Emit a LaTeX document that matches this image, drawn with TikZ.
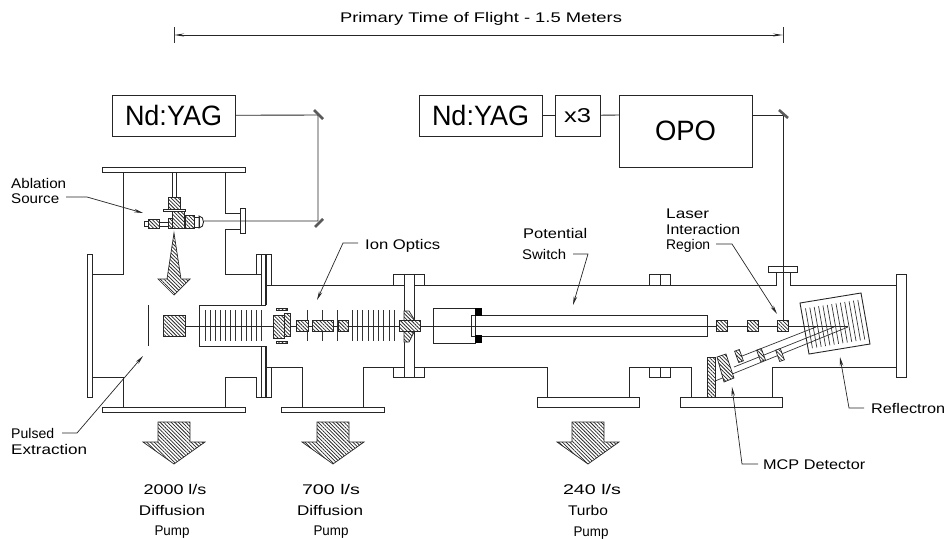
\documentclass[tikz,border=0pt]{standalone}
\usepackage{graphicx}
\usepackage{fontspec}
\setmainfont{Liberation Sans}
\usetikzlibrary{backgrounds,shapes,arrows.meta,patterns.meta}
\pgfdeclarelayer{edgelayer}
\pgfdeclarelayer{nodelayer}
\pgfsetlayers{edgelayer,nodelayer,main}
\tikzset{font=\fontsize{14}{14}\selectfont}
\newcommand{\wlab}[2]{\resizebox{#1pt}{\height}{#2}}
\tikzstyle{none}=[inner sep=0pt,minimum size=0pt]
\tikzstyle{wall}=[line width=0.9pt,black!85]
\tikzstyle{thin}=[line width=0.7pt,black!80]
\tikzstyle{hatch}=[line width=0.7pt,draw=black!85,preaction={fill=white},pattern={Lines[angle=-45,distance=2.6pt,line width=0.75pt]},pattern color=black!85]
\tikzstyle{mirror}=[line width=2.6pt,black!65]
\tikzstyle{leader}=[line width=0.7pt,black!85,-{Stealth[length=9pt,width=3.5pt]}]
\tikzstyle{span}=[line width=1pt,black!85,{Stealth[length=10pt,width=3pt]}-{Stealth[length=10pt,width=3pt]}]
\tikzstyle{laserbox}=[draw,line width=0.9pt,black!85,text=black,inner sep=0pt,font=\fontsize{28}{28}\selectfont]
\tikzstyle{lab}=[inner sep=0pt,text height=10pt,text depth=0pt,text=black]
\begin{document}
\begin{tikzpicture}[x=1pt,y=-1pt]
	\useasboundingbox (0,0) rectangle (947,538);
	\begin{pgfonlayer}{nodelayer}
		\node [style=laserbox,minimum width=123pt,minimum height=41pt] (0) at (173.5,115.5) {\wlab{97}{Nd:YAG}};
		\node [style=laserbox,minimum width=123pt,minimum height=41pt] (1) at (480.5,115.5) {\wlab{97}{Nd:YAG}};
		\node [style=laserbox,minimum width=45pt,minimum height=41pt,font=\fontsize{20}{20}\selectfont] (2) at (577.5,115.5) {\wlab{27}{x3}};
		\node [style=laserbox,minimum width=133pt,minimum height=72pt] (3) at (685.5,131) {\wlab{61}{OPO}};
		\node [style=none] (4) at (619,115) {};
		\node [style=none] (5) at (752,115) {};
		\node [style=none] (6) at (318,115) {};
		\node [style=none] (7) at (318,221) {};
		\node [style=none] (8) at (204,221) {};
		\node [style=none] (9) at (783,115) {};
		\node [style=none] (10) at (783,320) {};
		\node [style=none] (11) at (174,35) {};
		\node [style=none] (12) at (783,35) {};
		\node [style=none] (13) at (174,27) {};
		\node [style=none] (14) at (174,43) {};
		\node [style=none] (15) at (783,27) {};
		\node [style=none] (16) at (783,43) {};
		\node [style=none] (17) at (163,326) {};
		\node [style=none] (18) at (848,326) {};
		\node [style=lab] (20) at (481,18) {\wlab{282}{Primary Time of Flight - 1.5 Meters}};
		\node [style=lab,anchor=west] (21) at (11,183) {\wlab{55}{Ablation}};
		\node [style=lab,anchor=west] (22) at (11,198) {\wlab{48}{Source}};
		\node [style=none] (23) at (66,197) {};
		\node [style=none] (24) at (87,197) {};
		\node [style=none] (25) at (143,213) {};
		\node [style=lab,anchor=west] (26) at (365,244) {\wlab{75}{Ion Optics}};
		\node [style=none] (27) at (358,243) {};
		\node [style=none] (28) at (343,243) {};
		\node [style=none] (29) at (317,300) {};
		\node [style=lab,anchor=west] (30) at (523,233) {\wlab{64}{Potential}};
		\node [style=lab,anchor=west] (31) at (522,254) {\wlab{44}{Switch}};
		\node [style=none] (32) at (573,254) {};
		\node [style=none] (33) at (588,254) {};
		\node [style=none] (34) at (573,305) {};
		\node [style=lab,anchor=west] (35) at (666,213) {\wlab{43}{Laser}};
		\node [style=lab,anchor=west] (36) at (666,229) {\wlab{74}{Interaction}};
		\node [style=lab,anchor=west] (37) at (666,244) {\wlab{44}{Region}};
		\node [style=none] (38) at (716,244) {};
		\node [style=none] (39) at (732,244) {};
		\node [style=none] (40) at (777,314) {};
		\node [style=lab,anchor=west] (41) at (871,408) {\wlab{74}{Reflectron}};
		\node [style=none] (42) at (864,408) {};
		\node [style=none] (43) at (849,408) {};
		\node [style=none] (44) at (840,357) {};
		\node [style=lab,anchor=west] (45) at (763,464) {\wlab{102}{MCP Detector}};
		\node [style=none] (46) at (758,464) {};
		\node [style=none] (47) at (742,464) {};
		\node [style=none] (48) at (732,387) {};
		\node [style=lab,anchor=west] (49) at (11,433) {\wlab{43}{Pulsed}};
		\node [style=lab,anchor=west] (50) at (11,449) {\wlab{76}{Extraction}};
		\node [style=none] (51) at (62,433) {};
		\node [style=none] (52) at (77,433) {};
		\node [style=none] (53) at (143,356) {};
		\node [style=lab] (54) at (175,489) {\wlab{63}{2000 l/s}};
		\node [style=lab] (55) at (172,510) {\wlab{66}{Diffusion}};
		\node [style=lab] (56) at (172,530) {\wlab{35}{Pump}};
		\node [style=lab] (57) at (331,489) {\wlab{58}{700 l/s}};
		\node [style=lab] (58) at (330,510) {\wlab{66}{Diffusion}};
		\node [style=lab] (59) at (331,530) {\wlab{35}{Pump}};
		\node [style=lab] (60) at (592,489) {\wlab{58}{240 l/s}};
		\node [style=lab] (61) at (588,510) {\wlab{40}{Turbo}};
		\node [style=lab] (62) at (591,531) {\wlab{35}{Pump}};
	\end{pgfonlayer}
	\begin{pgfonlayer}{edgelayer}
		\draw [style=wall] (102,167) rectangle (245,172);
		\draw [style=wall] (102,407) rectangle (245,412);
		\draw [style=wall] (87,254) rectangle (92,397);
		\draw [style=wall] (123,172) -- (123,274) -- (92,274);
		\draw [style=wall] (92,377) -- (123,377) -- (123,407);
		\draw [style=wall] (225,172) -- (225,213) -- (240,213);
		\draw [style=wall] (240,229) -- (225,229) -- (225,274) -- (261,274);
		\draw [style=wall] (225,407) -- (225,377) -- (256,377);
		\draw [style=wall] (240,208) rectangle (245,233);
		\draw [style=wall] (256,274) -- (256,254) -- (271,254) -- (271,285);
		\draw [style=wall] (256,377) -- (256,397) -- (271,397) -- (271,367);
		\draw [style=wall] (261,254) -- (261,305) (261,346) -- (261,397);
		\draw [style=wall,line width=1.3pt] (266,254) -- (266,305) (266,346) -- (266,397);
		\draw [style=wall] (266,305) -- (199,305) -- (199,346) -- (266,346);
		\draw [style=wall] (266,285) -- (393,285);
		\draw [style=wall] (393,274) rectangle (404,285);
		\draw [style=wall] (414,274) rectangle (424,285);
		\draw [style=wall] (404,274) rectangle (414,377);
		\draw [style=wall] (393,367) rectangle (404,377);
		\draw [style=wall] (414,367) rectangle (424,377);
		\draw [style=wall] (424,285) -- (649,285);
		\draw [style=wall] (649,274) rectangle (660,285);
		\draw [style=wall] (660,274) rectangle (670,285);
		\draw [style=wall] (670,285) -- (776,285) -- (776,272);
		\draw [style=wall] (768,266) rectangle (797,272);
		\draw [style=wall] (790,272) -- (790,285) -- (896,285);
		\draw [style=wall] (896,274) rectangle (906,377);
		\draw [style=wall] (896,367) -- (772,367) -- (772,397);
		\draw [style=wall] (680,397) rectangle (782,407);
		\draw [style=wall] (691,397) -- (691,367) -- (670,367);
		\draw [style=wall] (649,367) rectangle (660,377);
		\draw [style=wall] (660,367) rectangle (670,377);
		\draw [style=wall] (649,367) -- (629,367) -- (629,397);
		\draw [style=wall] (537,397) rectangle (639,407);
		\draw [style=wall] (547,397) -- (547,367) -- (424,367);
		\draw [style=wall] (393,367) -- (363,367) -- (363,407);
		\draw [style=wall] (281,407) rectangle (384,412);
		\draw [style=wall] (302,407) -- (302,367) -- (266,367);
		\draw [style=wall] (148,305) -- (148,346);
		\foreach \x in {205,210,215,220,225,230,235,241,246,251,256,261} \draw [style=thin] (\x,310) -- (\x,341);
		\foreach \x in {307,322,337,352,357,362,368,373,378,383,389,394} \draw [style=thin] (\x,310) -- (\x,341);
		\draw [style=wall] (17.center) -- (18.center);
		\draw [style=wall] (433,308) rectangle (475,343);
		\draw [style=wall] (482,315) -- (471,315) -- (471,336) -- (482,336);
		\draw [style=wall] (471,315) -- (707,315) -- (707,336) -- (471,336);
		\fill [black] (475,308) rectangle (482,316);
		\fill [black] (475,335) rectangle (482,343);
		\draw [style=hatch] (163,315) rectangle (185,336);
		\draw [style=hatch] (284,313) rectangle (290,336);
		\draw [style=hatch] (273,315) rectangle (284,338);
		\draw [style=hatch] (276,308) rectangle (287,310);
		\draw [style=hatch] (276,341) rectangle (287,343);
		\draw [style=hatch] (296,320) rectangle (308,331);
		\draw [style=hatch] (312,320) rectangle (333,331);
		\draw [style=hatch] (338,320) rectangle (348,331);
		\draw [style=hatch] (404,311) -- (409,311) -- (414,319) -- (414,332) -- (409,342) -- (404,342) -- cycle;
		\draw [style=hatch] (399,320) rectangle (420,331);
		\draw [style=hatch] (716,320) rectangle (727,331);
		\draw [style=hatch] (747,320) rectangle (758,331);
		\draw [style=hatch] (777,320) rectangle (788,331);
		\draw [style=wall] (800,303) -- (861,293) -- (870,344) -- (809,354) -- cycle;
		\foreach \i in {1,...,13} \draw [style=thin] ({801.1+\i*4.36},{309.1-\i*.71}) -- ({808.1+\i*4.36},{348.9-\i*.71});
		\draw [style=thin] (816,327) -- (737,358);
		\draw [style=thin] (834,327) -- (734,367);
		\draw [style=thin] (848,327) -- (715,381);
		\draw [style=hatch,rotate around={20:(739,356)}] (736.5,350) rectangle (741.5,362);
		\draw [style=hatch,rotate around={20:(761,355)}] (758.5,349) rectangle (763.5,361);
		\draw [style=hatch,rotate around={20:(780,355)}] (777.5,349) rectangle (782.5,361);
		\draw [style=hatch] (707,357) rectangle (715,397);
		\draw [style=hatch] (717,357) -- (726,354) -- (734,378) -- (724,382) -- cycle;
		\draw [style=wall] (172,172) -- (172,197) (176,172) -- (176,197);
		\draw [style=hatch] (168,197) rectangle (180,209);
		\draw [style=wall] (163,209) rectangle (185,211);
		\draw [style=hatch] (168,218) rectangle (172,228);
		\draw [style=hatch] (172,211) rectangle (184,228);
		\draw [style=hatch] (185,215) rectangle (194,228);
		\draw [style=hatch] (148,219) rectangle (159,228);
		\draw [style=wall] (144,221) rectangle (148,226);
		\draw [style=wall] (159,222) rectangle (168,226);
		\draw [style=wall] (194,217) rectangle (199,227);
		\draw [style=wall] (199,216) .. controls (205,216) and (205,228) .. (199,228) -- cycle;
		\draw [style=hatch] (174,233) -- (181,279) -- (190,279) -- (174,295) -- (158,279) -- (167,279) -- cycle;
		\foreach \x in {174,333,588} \draw [style=hatch] (\x-16,422) -- (\x+16,422) -- (\x+16,442) -- (\x+31,442) -- (\x,464) -- (\x-31,442) -- (\x-16,442) -- cycle;
		\draw [style=wall] (0) -- (6.center) -- (7.center) -- (8.center);
		\draw [style=wall] (1) -- (2);
		\draw [style=wall] (2) -- (4.center);
		\draw [style=wall] (5.center) -- (9.center) -- (10.center);
		\draw [style=mirror] (314,110) -- (323,119);
		\draw [style=mirror] (315,227) -- (323,219);
		\draw [style=mirror] (779,110) -- (788,118);
		\draw [style=span] (11.center) -- (12.center);
		\draw [style=thin] (13.center) -- (14.center);
		\draw [style=thin] (15.center) -- (16.center);
		\draw [style=leader] (23.center) -- (24.center) -- (25.center);
		\draw [style=leader] (27.center) -- (28.center) -- (29.center);
		\draw [style=leader] (32.center) -- (33.center) -- (34.center);
		\draw [style=leader] (38.center) -- (39.center) -- (40.center);
		\draw [style=leader] (42.center) -- (43.center) -- (44.center);
		\draw [style=leader] (46.center) -- (47.center) -- (48.center);
		\draw [style=leader] (51.center) -- (52.center) -- (53.center);
	\end{pgfonlayer}
\end{tikzpicture}
\end{document}
